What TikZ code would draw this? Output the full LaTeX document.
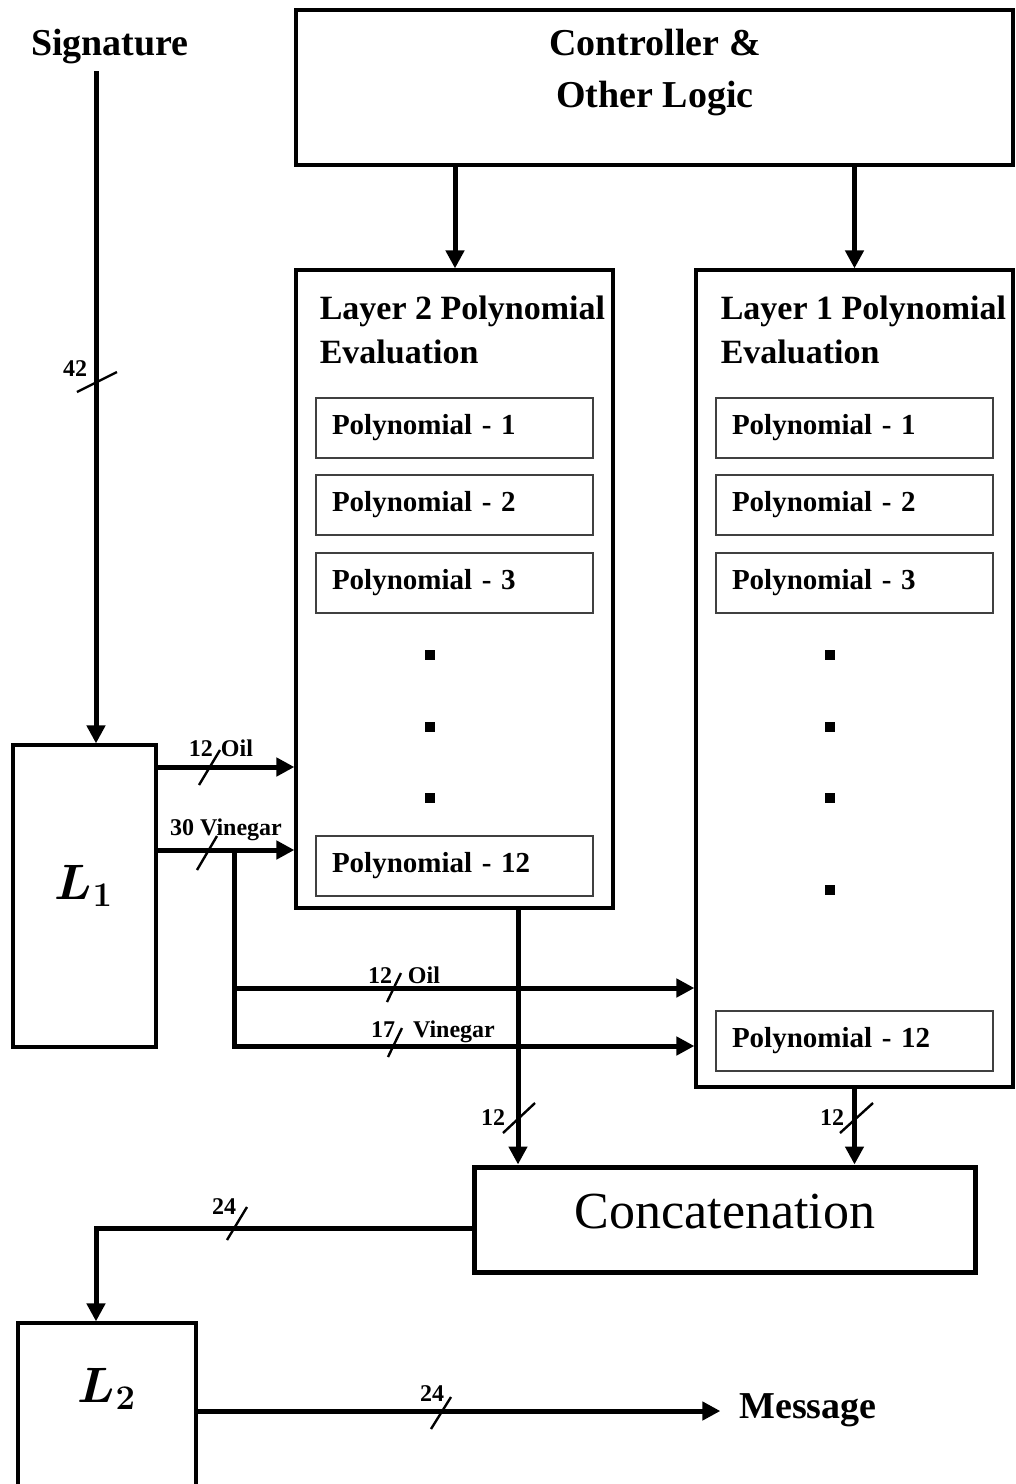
\documentclass[tikz,border=0pt]{standalone}
\usepackage{amsmath,bm}
\usepackage{fontspec}
\setmainfont{Liberation Serif}
\usetikzlibrary{arrows.meta,calc}
\tikzset{
  wire/.style={line width=2.5pt},
  arr/.style={wire,-{Triangle[length=9pt,width=9pt]}},
  blk/.style={draw,line width=1.6pt,inner sep=0pt},
  polybox/.style={draw=black!75,line width=0.7pt,minimum width=138.5pt,minimum height=30pt,
    text width=122.5pt,inner xsep=8pt,align=left,font=\fontsize{14.5}{17}\selectfont\bfseries},
  ttl/.style={inner sep=0pt,align=left,font=\fontsize{17}{22}\selectfont\bfseries},
  bigtxt/.style={font=\fontsize{19}{26}\selectfont\bfseries},
  busmark/.style={line width=1.2pt},
  buslbl/.style={font=\fontsize{12}{13}\selectfont\bfseries,inner sep=1pt},
}
\begin{document}
\begin{tikzpicture}[x=0.5pt,y=-0.5pt]
\useasboundingbox (0,0) rectangle (1016,1484);
% blocks
\node[blk,minimum width=358.5pt,minimum height=77.5pt] (ctrl) at (654.5,87.5) {};
\node[bigtxt,align=center] (ctrltxt) at (655,73) {Controller \&\\Other Logic};
\node[blk,minimum width=158.5pt,minimum height=319pt] (lay2) at (454.5,589) {};
\node[blk,minimum width=158.5pt,minimum height=408.5pt] (lay1) at (854.5,678.5) {};
\node[ttl,anchor=north west] (lay2txt) at ($(lay2.north west)+(25,27)$) {Layer 2 Polynomial\\Evaluation};
\node[ttl,anchor=north west] (lay1txt) at ($(lay1.north west)+(26,27)$) {Layer 1 Polynomial\\Evaluation};
\node[blk,minimum width=71.5pt,minimum height=151pt] (L1) at (84.5,896) {};
\node (L1txt) at (84,886) {\fontsize{23}{25}\selectfont$\bm{L_1}$};
\node[blk,line width=2.5pt,minimum width=250.5pt,minimum height=52.5pt] (cat) at (724.5,1219.5) {};
\node[font=\fontsize{26}{30}\selectfont] (cattxt) at (725,1212) {Concatenation};
\node[blk,minimum width=89pt,minimum height=88.5pt] (L2) at (107,1411.5) {};
\node (L2txt) at (107,1389) {\fontsize{23}{25}\selectfont$\bm{L_2}$};
\node[bigtxt] (sig) at (110,47) {Signature};
\node[bigtxt] (msg) at (808,1410) {Message};

% polynomial units
\node[polybox] (p2a) at (454.5,428) {Polynomial - 1};
\node[polybox] (p2b) at (454.5,505) {Polynomial - 2};
\node[polybox] (p2c) at (454.5,583) {Polynomial - 3};
\node[polybox] (p2l) at (454.5,866) {Polynomial - 12};
\node[polybox] (p1a) at (854.5,428) {Polynomial - 1};
\node[polybox] (p1b) at (854.5,505) {Polynomial - 2};
\node[polybox] (p1c) at (854.5,583) {Polynomial - 3};
\node[polybox] (p1l) at (854.5,1041) {Polynomial - 12};
\foreach \y in {655,727,798}
  \fill (430,\y) ++(-5,-5) rectangle ++(10,10);
\foreach \y in {655,727,798,890}
  \fill (830,\y) ++(-5,-5) rectangle ++(10,10);

% connections
\draw[arr] (sig.south -| 96,0) -- (L1.north -| 96,0);
\draw[arr] (ctrl.south -| 455,0) -- (lay2.north -| 455,0);
\draw[arr] (ctrl.south -| lay1.north) -- (lay1.north);
\draw[arr] (L1.east |- 0,767) -- (lay2.west |- 0,767);
\draw[arr] (L1.east |- 0,850) -- (lay2.west |- 0,850);
\coordinate (split) at (234,850);
\draw[arr] (split) -- (split |- 0,1046) -- (lay1.west |- 0,1046);
\draw[arr] (split |- 0,988) -- (lay1.west |- 0,988);
\draw[arr] (lay2.south -| 518,0) -- (cat.north -| 518,0);
\draw[arr] (lay1.south) -- (cat.north -| lay1.south);
\draw[arr] (cat.west |- 0,1228) -| (L2.north -| 96,0);
\draw[arr,shorten >=6pt] (L2.east |- 0,1411) -- (msg.west |- 0,1411);

% bus widths
\draw[busmark] (77,392) -- (117,372);
\node[buslbl] (w42) at (75,369) {42};
\draw[busmark] (199,785) -- (220,750);
\node[buslbl] (w12a) at (221,748) {12\hspace{4pt}Oil};
\draw[busmark] (197,870) -- (217,836);
\node[buslbl] (w30) at (226,830) {30 Vinegar};
\draw[busmark] (387,1002) -- (401,973);
\node[buslbl] (w12b) at (404,975) {12\hspace{8pt}Oil};
\draw[busmark] (388,1057) -- (402,1028);
\node[buslbl] (w17) at (433,1032) {17\hspace{9pt}Vinegar};
\draw[busmark] (503,1133) -- (535,1103);
\node[buslbl] (w12c) at (493,1118) {12};
\draw[busmark] (840,1133) -- (873,1103);
\node[buslbl] (w12d) at (832,1118) {12};
\draw[busmark] (227,1240) -- (247,1207);
\node[buslbl] (w24a) at (224,1207) {24};
\draw[busmark] (431,1429) -- (451,1397);
\node[buslbl] (w24b) at (432,1394) {24};
\end{tikzpicture}
\end{document}
